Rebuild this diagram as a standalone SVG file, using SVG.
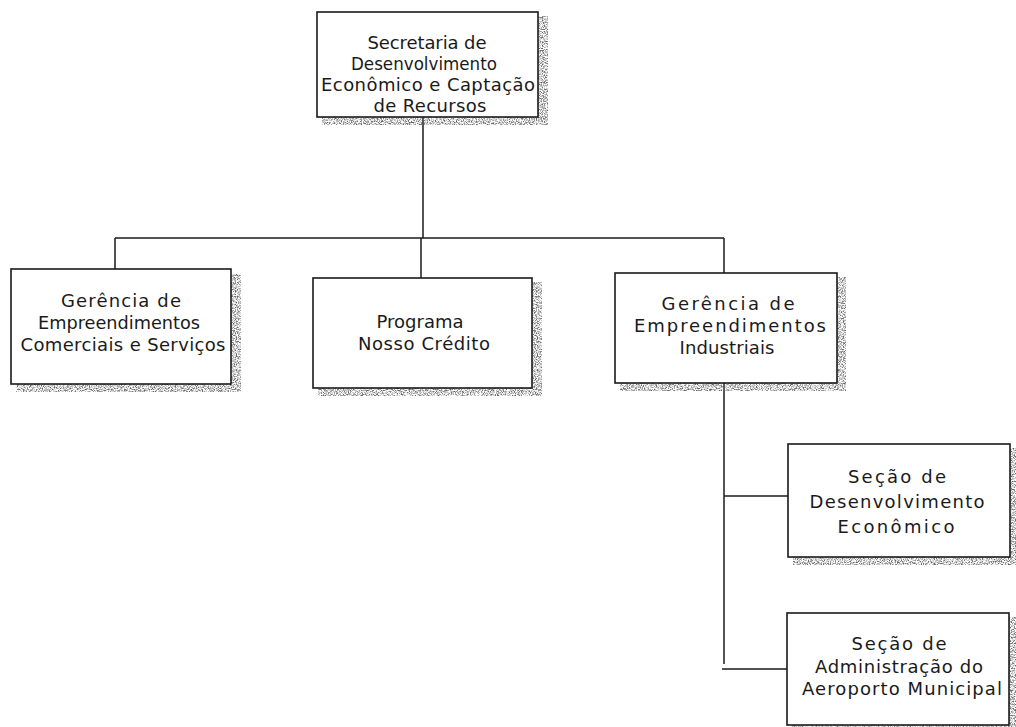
<svg xmlns="http://www.w3.org/2000/svg" width="1016" height="727" viewBox="0 0 1016 727">
  <style>
    .box { fill: #ffffff; stroke: #1a1a1a; stroke-width: 1.6; }
    .shadow { fill: #000000; filter: url(#grain); }
    .lbl { font-family: "DejaVu Sans", "Liberation Sans", sans-serif; font-size: 18px; fill: #1a1a1a; text-anchor: middle; }
    .wire { stroke: #1a1a1a; stroke-width: 1.5; fill: none; }
  </style>
  <defs>
    <!-- speckled grey drop shadow -->
    <filter id="grain" x="0" y="0" width="1" height="1" color-interpolation-filters="sRGB">
      <feTurbulence type="fractalNoise" baseFrequency="0.85" numOctaves="2" seed="7" result="noise"/>
      <feColorMatrix in="noise" type="matrix" values="0 0 0 0 0.4  0 0 0 0 0.4  0 0 0 0 0.4  3.2 0 0 0 -1.3" result="dots"/>
      <feComposite in="dots" in2="SourceAlpha" operator="in"/>
    </filter>
  </defs>

  <rect width="1016" height="727" fill="#ffffff"/>

  <!-- connectors -->
  <g id="connectors">
    <line class="wire" x1="423" y1="117" x2="423" y2="238"/>
    <line class="wire" x1="115" y1="238" x2="724" y2="238"/>
    <line class="wire" x1="115" y1="238" x2="115" y2="270"/>
    <line class="wire" x1="421" y1="238" x2="421" y2="278"/>
    <line class="wire" x1="724" y1="238" x2="724" y2="273"/>
    <line class="wire" x1="724" y1="383" x2="724" y2="664"/>
    <line class="wire" x1="724" y1="496" x2="788" y2="496"/>
    <line class="wire" x1="722" y1="669" x2="787" y2="669"/>
  </g>

  <g id="secretaria">
    <rect class="shadow" x="322" y="16" width="226" height="109"/>
    <rect class="box" x="317" y="12" width="221" height="105"/>
    <text class="lbl" x="427" y="48.5" textLength="119" lengthAdjust="spacing">Secretaria de</text>
    <text class="lbl" x="424" y="69.5" textLength="146" lengthAdjust="spacingAndGlyphs">Desenvolvimento</text>
    <text class="lbl" x="428" y="90.5" textLength="214" lengthAdjust="spacing">Econômico e Captação</text>
    <text class="lbl" x="430" y="111.5" textLength="113" lengthAdjust="spacing">de Recursos</text>
  </g>

  <g id="gerencia-comerciais">
    <rect class="shadow" x="16" y="274" width="225" height="118"/>
    <rect class="box" x="11" y="269" width="220" height="115"/>
    <text class="lbl" x="121" y="307" textLength="120" lengthAdjust="spacing">Gerência de</text>
    <text class="lbl" x="119" y="329" textLength="162" lengthAdjust="spacingAndGlyphs">Empreendimentos</text>
    <text class="lbl" x="123" y="351" textLength="205" lengthAdjust="spacing">Comerciais e Serviços</text>
  </g>

  <g id="programa">
    <rect class="shadow" x="318" y="282" width="224" height="114"/>
    <rect class="box" x="313" y="278" width="219" height="110"/>
    <text class="lbl" x="420" y="328">Programa</text>
    <text class="lbl" x="424" y="350" textLength="132" lengthAdjust="spacing">Nosso Crédito</text>
  </g>

  <g id="gerencia-industriais">
    <rect class="shadow" x="620" y="277" width="226" height="114"/>
    <rect class="box" x="615" y="273" width="222" height="110"/>
    <text class="lbl" x="728" y="310" textLength="133" lengthAdjust="spacing">Gerência de</text>
    <text class="lbl" x="730" y="332" textLength="192" lengthAdjust="spacing">Empreendimentos</text>
    <text class="lbl" x="727" y="354" textLength="95" lengthAdjust="spacing">Industriais</text>
  </g>

  <g id="secao-desenvolvimento">
    <rect class="shadow" x="793" y="448" width="223" height="117"/>
    <rect class="box" x="788" y="444" width="222" height="113"/>
    <text class="lbl" x="897" y="483" textLength="98" lengthAdjust="spacing">Seção de</text>
    <text class="lbl" x="897" y="508" textLength="175" lengthAdjust="spacing">Desenvolvimento</text>
    <text class="lbl" x="896" y="533" textLength="117" lengthAdjust="spacing">Econômico</text>
  </g>

  <g id="secao-aeroporto">
    <rect class="shadow" x="792" y="617" width="224" height="110"/>
    <rect class="box" x="787" y="613" width="222" height="112"/>
    <text class="lbl" x="899" y="650" textLength="95" lengthAdjust="spacing">Seção de</text>
    <text class="lbl" x="899" y="673" textLength="168" lengthAdjust="spacing">Administração do</text>
    <text class="lbl" x="902" y="695" textLength="200" lengthAdjust="spacing">Aeroporto Municipal</text>
  </g>
</svg>
